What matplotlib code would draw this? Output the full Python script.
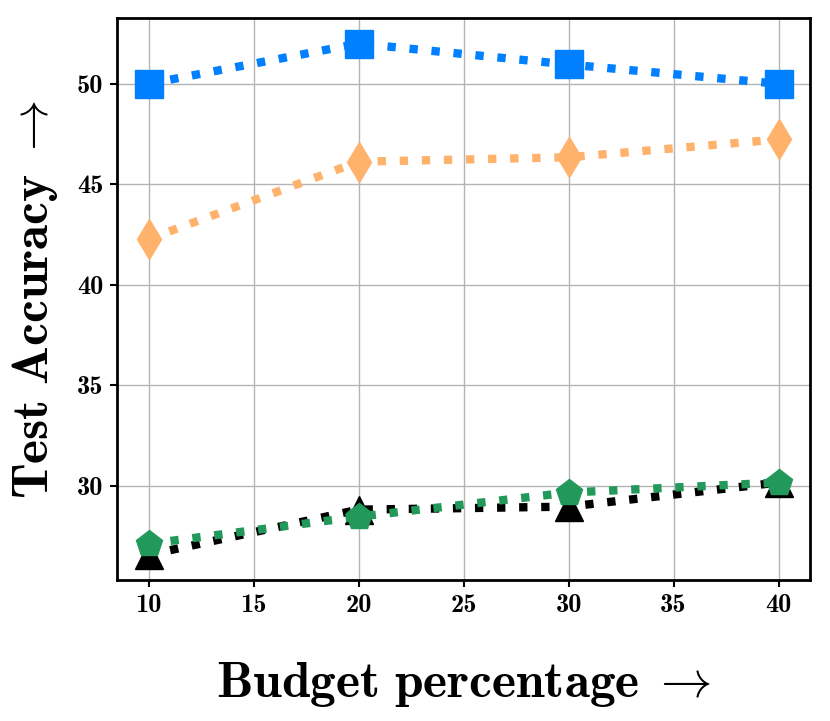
import numpy as np
import matplotlib
matplotlib.use("Agg")
import matplotlib.pyplot as plt

# budget (%) and test accuracy for the four methods
budget = [10, 20, 30, 40]
acc_blue = [50.0, 52.0, 50.96, 50.0]
acc_orange = [42.27, 46.12, 46.34, 47.23]
acc_black = [26.55, 28.8, 28.95, 30.15]
acc_green = [27.1, 28.45, 29.65, 30.15]

x_ticks = [10, 15, 20, 25, 30, 35, 40]
y_ticks = [30, 35, 40, 45, 50]

plt.rcParams['mathtext.fontset'] = 'cm'
plt.rcParams['axes.unicode_minus'] = False

fig = plt.figure(figsize=(8.3, 7.21), dpi=100)
ax = fig.add_axes([0.141, 0.195, 0.835, 0.78])

ms = 20
lw = 6
ax.plot(budget, acc_blue, ':', color='#0080ff', marker='s', markersize=ms, lw=lw)
ax.plot(budget, acc_orange, ':', color='#ffb26b', marker='d', markersize=ms, lw=lw)
ax.plot(budget, acc_black, ':', color='black', marker='^', markersize=ms, lw=lw)
ax.plot(budget, acc_green, ':', color='#22995a', marker='p', markersize=ms, lw=lw)

ax.set_xticks(x_ticks)
ax.set_yticks(y_ticks)
ax.grid(True, color='#b4b4b4', linewidth=1.0)
ax.set_axisbelow(True)

for lab in ax.get_xticklabels() + ax.get_yticklabels():
    lab.set_fontfamily('cmb10')
    lab.set_fontsize(19)
ax.tick_params(direction='out', length=5, width=1.5, pad=5)

for sp in ax.spines.values():
    sp.set_linewidth(2)

ax.set_xlabel(r'$\mathbf{Budget\ percentage}\;\rightarrow$', fontsize=37, labelpad=30)
ax.set_ylabel(r'$\mathbf{Test\ Accuracy}\ \rightarrow$', fontsize=37, labelpad=12)

fig.savefig('out.png', dpi=100)
